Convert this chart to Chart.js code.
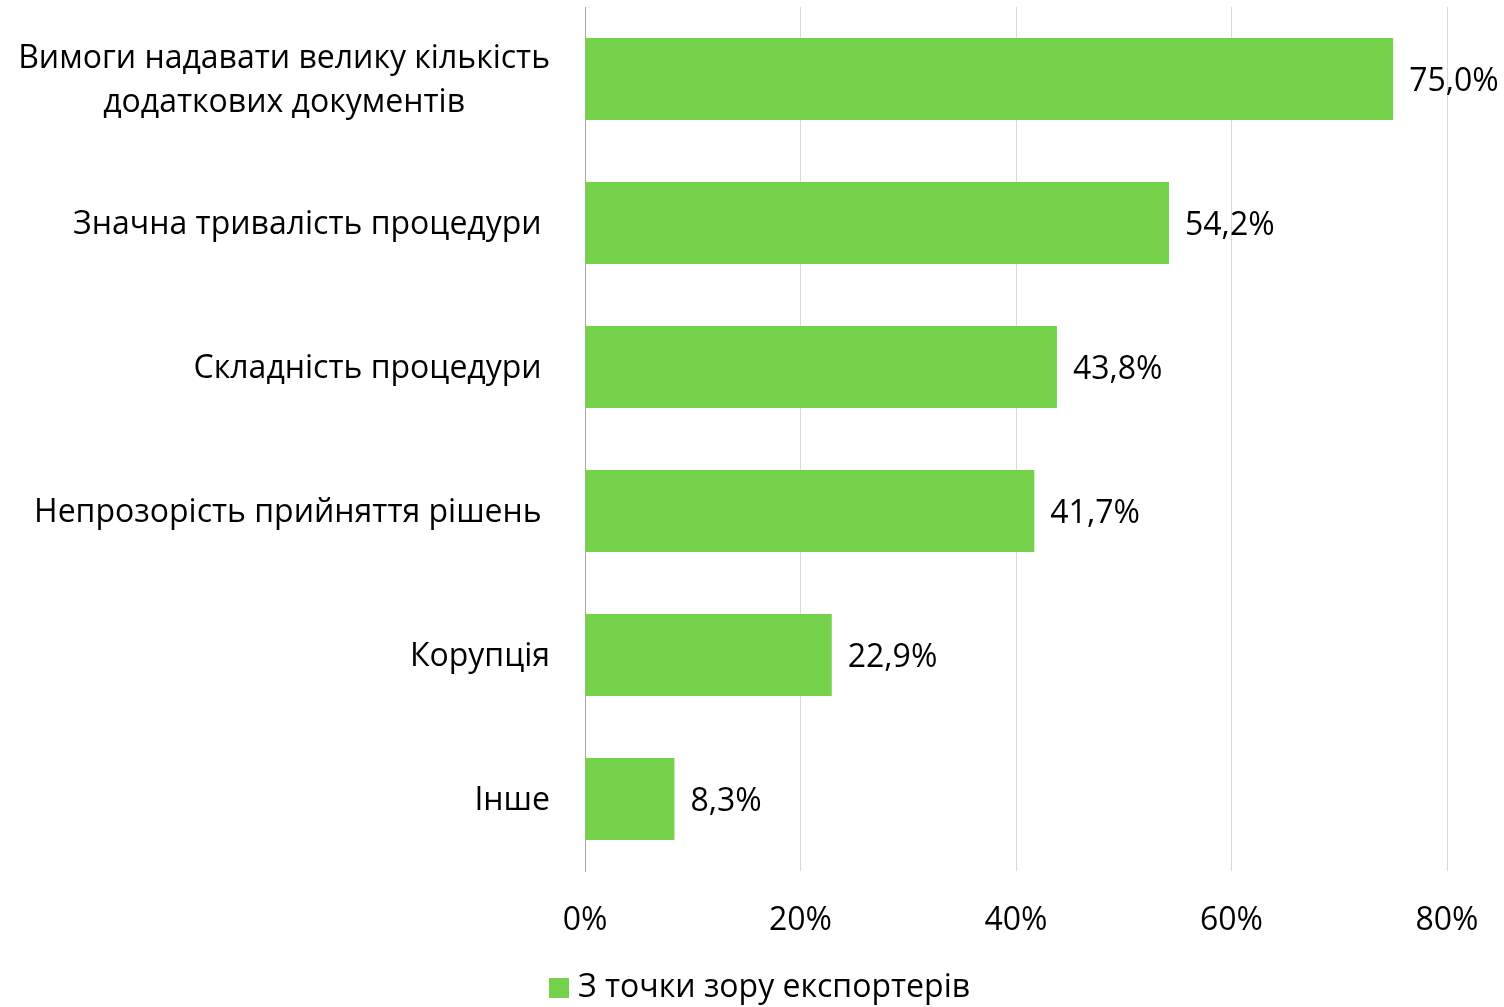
<!DOCTYPE html>
<html>
<head>
<meta charset="utf-8">
<script src="https://cdn.jsdelivr.net/npm/chart.js@4"></script>
<style>
  html, body { margin: 0; padding: 0; background: #fff; }
  #wrap { width: 1504px; height: 1007px; }
</style>
</head>
<body>
<div id="wrap"><canvas id="barChart" width="1504" height="1007"></canvas></div>
<script>
var categories = [
  ["Вимоги надавати велику кількість", "додаткових документів"],
  "Значна тривалість процедури ",
  "Складність процедури ",
  "Непрозорість прийняття рішень ",
  "Корупція",
  "Інше"
];
var values = [75.0, 54.2, 43.8, 41.7, 22.9, 8.3];
var seriesName = "З точки зору експортерів";
var xTicks = [0, 20, 40, 60, 80];

var FONT = "'Open Sans', 'Noto Sans', sans-serif";
var FONT_SIZE = 32;
var GREEN = "#75D14A";

// category labels, multi-line ones centered on their widest line
var categoryLabels = {
  id: "categoryLabels",
  afterDraw: function(chart) {
    var ctx = chart.ctx;
    var yScale = chart.scales.y;
    var right = chart.chartArea.left - 35;
    var lineH = 44;
    ctx.save();
    ctx.font = FONT_SIZE + "px " + FONT;
    ctx.fillStyle = "#000";
    ctx.textBaseline = "middle";
    ctx.textAlign = "left";
    categories.forEach(function(lab, i) {
      var lines = Array.isArray(lab) ? lab : [lab];
      var maxW = 0;
      lines.forEach(function(l) { maxW = Math.max(maxW, ctx.measureText(l).width); });
      var cx = right - maxW / 2;
      var y0 = yScale.getPixelForTick(i) + 2 - (lines.length - 1) * lineH / 2;
      lines.forEach(function(l, j) {
        var w = ctx.measureText(l).width;
        ctx.fillText(l, cx - w / 2, y0 + j * lineH);
      });
    });
    ctx.restore();
  }
};

// value labels at the end of each bar
var valueLabels = {
  id: "valueLabels",
  afterDatasetsDraw: function(chart) {
    var ctx = chart.ctx;
    var meta = chart.getDatasetMeta(0);
    ctx.save();
    ctx.font = FONT_SIZE + "px " + FONT;
    ctx.fillStyle = "#000";
    ctx.textAlign = "left";
    ctx.textBaseline = "middle";
    meta.data.forEach(function(bar, i) {
      var txt = values[i].toFixed(1).replace(".", ",") + "%";
      ctx.fillText(txt, bar.x + 16, bar.y + 3);
    });
    ctx.restore();
  }
};

// legend under the axis
var bottomLegend = {
  id: "bottomLegend",
  afterDraw: function(chart) {
    var ctx = chart.ctx;
    var y = 988;
    ctx.save();
    ctx.fillStyle = GREEN;
    ctx.fillRect(549, y - 10, 20, 20);
    ctx.font = FONT_SIZE + "px " + FONT;
    ctx.fillStyle = "#000";
    ctx.textAlign = "left";
    ctx.textBaseline = "middle";
    ctx.fillText(seriesName, 578, y);
    ctx.restore();
  }
};

var ctx = document.getElementById("barChart").getContext("2d");
var chart = new Chart(ctx, {
  type: "bar",
  data: {
    labels: categories,
    datasets: [{
      label: seriesName,
      data: values,
      backgroundColor: GREEN,
      borderWidth: 0,
      barPercentage: 0.57,
      categoryPercentage: 1
    }]
  },
  options: {
    indexAxis: "y",
    responsive: false,
    animation: false,
    layout: { padding: { top: 7, right: 57, left: 10, bottom: 0 } },
    scales: {
      x: {
        min: 0,
        max: 80,
        afterBuildTicks: function(scale) {
          scale.ticks = xTicks.map(function(v) { return { value: v }; });
        },
        afterFit: function(scale) {
          scale.height = 136;
          scale.paddingLeft = 0;
          scale.paddingRight = 0;
        },
        grid: { color: "#d9d9d9", lineWidth: 1, drawTicks: false },
        border: { display: false },
        ticks: {
          padding: 31,
          color: "#000",
          font: { family: FONT, size: FONT_SIZE },
          callback: function(v) { return v + "%"; }
        }
      },
      y: {
        afterFit: function(scale) {
          scale.width = 575;
          scale.paddingTop = 0;
          scale.paddingBottom = 0;
        },
        grid: { display: false, drawTicks: false },
        border: { display: true, color: "#a6a6a6", width: 1 },
        ticks: { display: false }
      }
    },
    plugins: {
      legend: { display: false },
      tooltip: { enabled: false }
    }
  },
  plugins: [valueLabels, categoryLabels, bottomLegend]
});
</script>
</body>
</html>
